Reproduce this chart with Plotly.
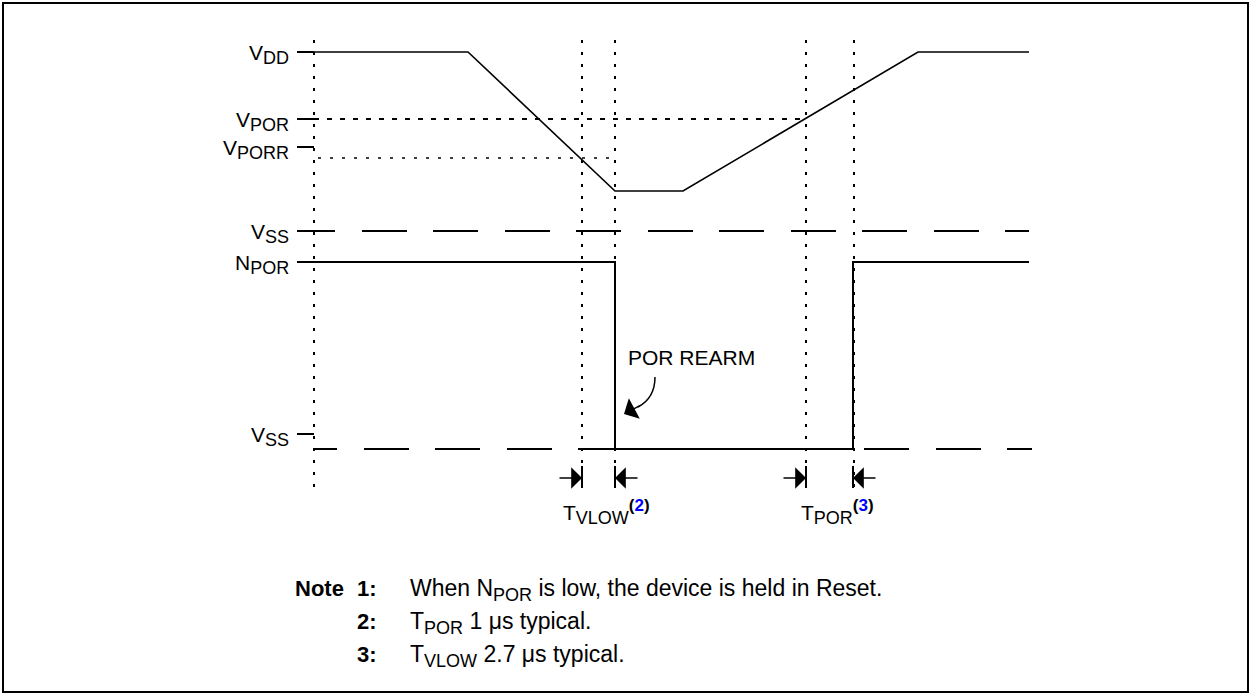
import plotly.graph_objects as go

# ---- data (diagram coordinate frame: time -> x, level -> y) ----
vdd_t = [298, 468, 615, 683, 918, 1029]
vdd_v = [52, 52, 191, 191, 52, 52]
npor_t = [298, 615, 615, 853, 853, 1029]
npor_v = [262, 262, 449, 449, 262, 262]

level_names = [("V", "DD"), ("V", "POR"), ("V", "PORR"), ("V", "SS"), ("N", "POR"), ("V", "SS")]
level_y = [52, 119, 147, 231, 262, 434]

marker_t = [314, 582, 615, 806, 854]
vpor_level = 119
vporr_level = 158
vss_hi = 231
vss_lo = 449

intervals = [(582, 615), (806, 853)]
interval_names = [("T", "VLOW", "2"), ("T", "POR", "3")]

note_nums = ["1:", "2:", "3:"]

FONT = "Arial, Liberation Sans, sans-serif"
BLACK = "#000000"
FS = 21
NFS = 22
BFS = 23
SUBFS = 18


def sub(s, size=SUBFS):
    return f"<sub><span style='font-size:{size}px'>{s}</span></sub>"


note_texts = [f"When N{sub('POR')} is low, the device is held in Reset.",
              f"T{sub('POR')} 1 \u03bcs typical.",
              f"T{sub('VLOW')} 2.7 \u03bcs typical."]

fig = go.Figure()


def seg(x, y, width=2, dash="solid"):
    fig.add_trace(go.Scatter(x=x, y=y, mode="lines",
                             line=dict(color=BLACK, width=width, dash=dash),
                             hoverinfo="skip", showlegend=False))


def dashed(first):
    parts = [f"{first}px", "27px"] + ["45px,26px,45px,27px"] * 8
    return ",".join(parts)


# vertical dotted timing markers
for t in marker_t:
    seg([t, t], [40, 488], width=2, dash="3px,9px")

# threshold dotted lines
seg([314, 806], [vpor_level, vpor_level], width=2, dash="5px,8px")
seg([318, 615], [vporr_level, vporr_level], width=1.5, dash="3px,9px")

# Vss dashed reference lines
seg([298, 1029], [vss_hi, vss_hi], width=2, dash=dashed(37))
seg([315, 1032], [vss_lo, vss_lo], width=2, dash=dashed(22))

# level ticks at the left
for y in level_y:
    seg([297, 314], [y, y], width=2)

# waveforms
seg(vdd_t, vdd_v, width=1.6)
seg(npor_t, npor_v, width=2)

# interval measurement ticks + arrows
annotations = []
for (a, b), (m, s, n) in zip(intervals, interval_names):
    seg([a, a], [466, 488], width=2)
    seg([b, b], [466, 488], width=2)
    annotations.append(dict(x=a, y=478, ax=a - 24, ay=478, axref="x", ayref="y",
                            xref="x", yref="y", showarrow=True, arrowhead=1,
                            arrowsize=2.4, arrowwidth=1.5, arrowcolor=BLACK, text=""))
    annotations.append(dict(x=b, y=478, ax=b + 24, ay=478, axref="x", ayref="y",
                            xref="x", yref="y", showarrow=True, arrowhead=1,
                            arrowsize=2.4, arrowwidth=1.5, arrowcolor=BLACK, text=""))
    lab = (f"{m}{sub(s)}<sup><span style='font-size:17px'><b>(<span style='color:#0000ff'>{n}</span>)</b></span></sup>")
    annotations.append(dict(x=(a + b) / 2 + 7.5, y=512, xref="x", yref="y", text=lab,
                            showarrow=False, xanchor="center", yanchor="middle",
                            font=dict(family=FONT, size=FS, color=BLACK)))

# level labels
for (m, s), y in zip(level_names, level_y):
    annotations.append(dict(x=291, y=y + 2, xref="x", yref="y", text=f"{m}{sub(s)}",
                            showarrow=False, xanchor="right", yanchor="middle",
                            font=dict(family=FONT, size=FS, color=BLACK)))

# POR REARM callout
annotations.append(dict(x=626, y=357, xref="x", yref="y", text="POR REARM",
                        showarrow=False, xanchor="left", yanchor="middle",
                        font=dict(family=FONT, size=FS, color=BLACK)))
annotations.append(dict(x=624, y=414, ax=641, ay=405, axref="x", ayref="y",
                        xref="x", yref="y", showarrow=True, arrowhead=1,
                        arrowsize=2.6, arrowwidth=1.5, arrowcolor=BLACK, text=""))
shapes = [dict(type="path", xref="x", yref="y",
               path="M 655 377 Q 655 398 638 407",
               line=dict(color=BLACK, width=1.5)),
          dict(type="rect", xref="x", yref="y", x0=3, y0=3, x1=1248, y1=692,
               line=dict(color=BLACK, width=2))]

# notes
note_y = [588, 621, 654]
annotations.append(dict(x=293, y=note_y[0], xref="x", yref="y", text="<b>Note</b>",
                        showarrow=False, xanchor="left", yanchor="middle",
                        font=dict(family=FONT, size=NFS, color=BLACK)))
for num, txt, y in zip(note_nums, note_texts, note_y):
    annotations.append(dict(x=379, y=y, xref="x", yref="y", text=f"<b>{num}</b>",
                            showarrow=False, xanchor="right", yanchor="middle",
                            font=dict(family=FONT, size=NFS, color=BLACK)))
    annotations.append(dict(x=408, y=y + 2, xref="x", yref="y", text=txt,
                            showarrow=False, xanchor="left", yanchor="middle",
                            font=dict(family=FONT, size=BFS, color=BLACK)))

fig.update_layout(
    width=1250, height=694,
    margin=dict(l=0, r=0, t=0, b=0),
    paper_bgcolor="white", plot_bgcolor="white",
    xaxis=dict(range=[0, 1250], visible=False, fixedrange=True),
    yaxis=dict(range=[694, 0], visible=False, fixedrange=True),
    annotations=annotations, shapes=shapes, showlegend=False,
)

fig.write_html("out.html", config={"displayModeBar": False},
               post_script="document.body.style.margin='0px';document.body.style.overflow='hidden';")
